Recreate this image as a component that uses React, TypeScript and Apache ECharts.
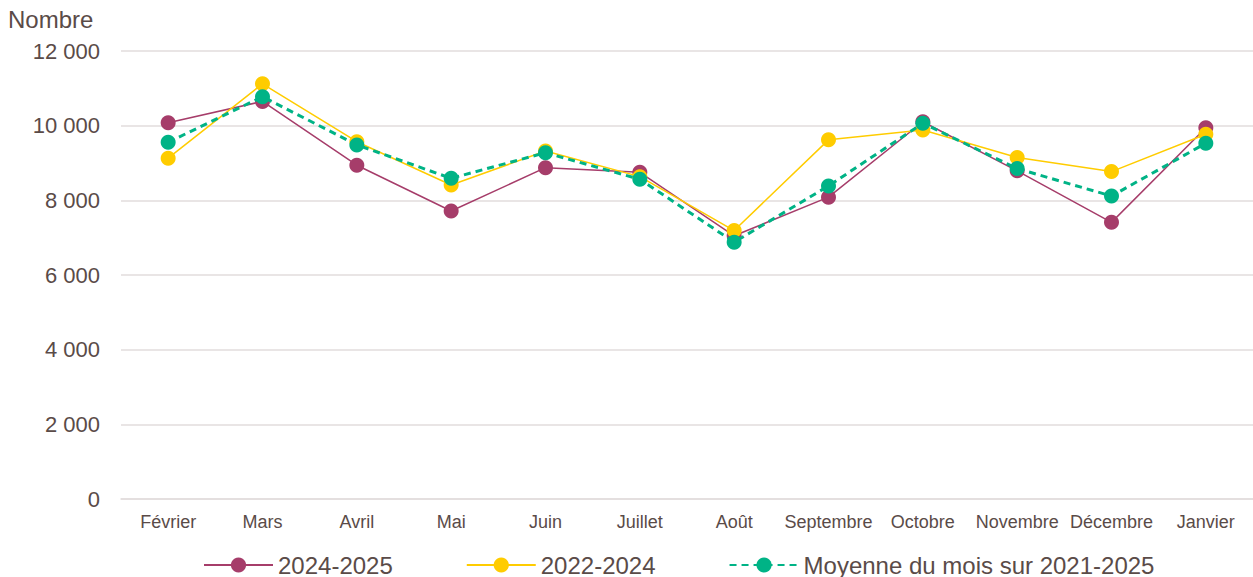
import React, { useEffect, useRef } from "react";
import * as echarts from "echarts";

const months = ["Février", "Mars", "Avril", "Mai", "Juin", "Juillet", "Août", "Septembre", "Octobre", "Novembre", "Décembre", "Janvier"];
const s2024_2025 = [10080, 10650, 8940, 7715, 8875, 8750, 7050, 8085, 10105, 8790, 7410, 9945];
const s2022_2024 = [9130, 11120, 9570, 8410, 9320, 8635, 7190, 9620, 9885, 9145, 8770, 9770];
const sMoyenne = [9555, 10775, 9485, 8590, 9275, 8565, 6880, 8385, 10065, 8850, 8115, 9530];
const seriesNames = ["2024-2025", "2022-2024", "Moyenne du mois sur 2021-2025"];

const textColor = "#5a4b48";
const font = "'Liberation Sans', Arial, sans-serif";

export default function App() {
  const ref = useRef<HTMLDivElement>(null);
  useEffect(() => {
    if (!ref.current) return;
    const chart = echarts.init(ref.current, null, { renderer: "svg" });
    const fmt = (v: number) => String(v).replace(/\B(?=(\d{3})+(?!\d))/g, " ");
    chart.setOption({
      animation: false,
      textStyle: { fontFamily: font },
      grid: { left: 121, right: 0, top: 51, bottom: 78, containLabel: false },
      graphic: [
        { type: "text", left: 8, top: 7, style: { text: "Nombre", fontSize: 24, fill: textColor, fontFamily: font } },
      ],
      xAxis: {
        type: "category",
        data: months,
        boundaryGap: true,
        axisLine: { show: true, lineStyle: { color: "#e2dddd", width: 1.5 } },
        axisTick: { show: false },
        axisLabel: { color: textColor, fontSize: 18, margin: 14, interval: 0, fontFamily: font },
      },
      yAxis: {
        type: "value",
        min: 0,
        max: 12000,
        interval: 2000,
        axisLine: { show: false },
        axisTick: { show: false },
        splitLine: { lineStyle: { color: "#e2dddd", width: 1.5 } },
        axisLabel: { color: textColor, fontSize: 22, margin: 21, formatter: fmt, fontFamily: font },
      },
      legend: {
        left: 198,
        top: 548,
        itemWidth: 69,
        itemHeight: 19,
        itemGap: 73,
        textStyle: { color: textColor, fontSize: 24, lineHeight: 22, fontFamily: font },
        data: seriesNames,
      },
      series: [
        {
          name: seriesNames[0],
          type: "line",
          data: s2024_2025,
          symbol: "circle",
          symbolSize: 15,
          lineStyle: { color: "#a63d6a", width: 1.5 },
          itemStyle: { color: "#a63d6a" },
          z: 3,
        },
        {
          name: seriesNames[1],
          type: "line",
          data: s2022_2024,
          symbol: "circle",
          symbolSize: 15,
          lineStyle: { color: "#ffcc00", width: 1.5 },
          itemStyle: { color: "#ffcc00" },
          z: 4,
        },
        {
          name: seriesNames[2],
          type: "line",
          data: sMoyenne,
          symbol: "circle",
          symbolSize: 15,
          lineStyle: { color: "#00b386", width: 3, type: [7, 5] },
          itemStyle: { color: "#00b386" },
          z: 5,
        },
      ],
    });
    return () => chart.dispose();
  }, []);
  return <div ref={ref} style={{ width: 1253, height: 577, position: "absolute", left: 0, top: 0 }} />;
}
